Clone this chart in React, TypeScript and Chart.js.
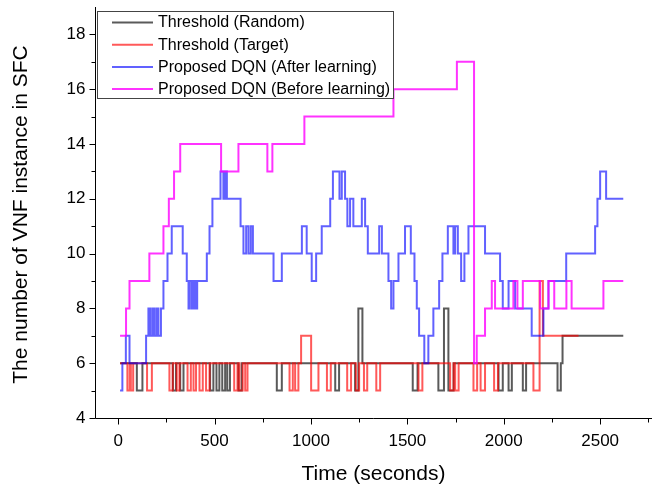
import React, { useEffect, useRef } from 'react';
import { Chart, registerables } from 'chart.js';

Chart.register(...registerables);

// ---- data (time in seconds -> number of VNF instances; value holds until next time) ----
const randomTimes = [10, 97, 126, 284, 300, 322, 339, 477, 494, 510, 525, 540, 555, 566, 580, 624, 641, 823, 849, 1126, 1146, 1229, 1246, 1267, 1528, 1553, 1661, 1690, 1713, 1740, 1973, 1995, 2025, 2042, 2099, 2116, 2279, 2296, 2305, 2620];
const randomValues = [6, 5, 6, 5, 6, 5, 6, 5, 6, 5, 6, 5, 6, 5, 6, 5, 6, 5, 6, 5, 6, 5, 8, 6, 5, 6, 5, 8, 5, 6, 5, 6, 5, 6, 5, 6, 5, 6, 7, 7];

const targetTimes = [10, 48, 60, 66, 78, 150, 175, 266, 283, 304, 318, 360, 377, 391, 404, 422, 439, 456, 474, 602, 619, 629, 646, 659, 671, 889, 906, 918, 935, 949, 1001, 1039, 1083, 1103, 1188, 1208, 1233, 1250, 1275, 1292, 1339, 1359, 1558, 1578, 1722, 1740, 1748, 1766, 1843, 1862, 1880, 1903, 1950, 1970, 2154, 2186, 2203, 2388];
const targetValues = [6, 5, 6, 5, 6, 5, 6, 5, 6, 5, 6, 5, 6, 5, 6, 5, 6, 5, 6, 5, 6, 5, 6, 5, 6, 5, 6, 5, 6, 7, 5, 6, 5, 6, 5, 6, 5, 6, 5, 6, 5, 6, 5, 6, 5, 6, 5, 6, 5, 6, 5, 6, 5, 6, 5, 9, 7, 7];

const afterTimes = [10, 22, 40, 59, 145, 157, 167, 178, 188, 199, 209, 222, 235, 256, 278, 335, 356, 365, 372, 383, 390, 400, 410, 460, 474, 489, 531, 546, 555, 564, 635, 650, 664, 676, 688, 699, 806, 849, 953, 978, 1004, 1027, 1056, 1100, 1114, 1148, 1160, 1177, 1189, 1203, 1220, 1264, 1281, 1295, 1354, 1368, 1402, 1416, 1428, 1454, 1488, 1518, 1537, 1549, 1561, 1588, 1609, 1635, 1665, 1682, 1710, 1739, 1748, 1762, 1779, 1796, 1817, 1903, 1981, 1995, 2025, 2059, 2145, 2206, 2232, 2324, 2474, 2486, 2500, 2531, 2620];
const afterValues = [5, 6, 7, 6, 7, 8, 7, 8, 7, 8, 7, 8, 9, 10, 11, 10, 9, 8, 9, 8, 9, 8, 9, 10, 11, 12, 13, 12, 13, 12, 11, 10, 11, 10, 11, 10, 9, 10, 11, 10, 9, 10, 11, 12, 13, 12, 13, 12, 11, 12, 11, 12, 11, 10, 11, 10, 9, 8, 9, 10, 11, 10, 9, 8, 7, 6, 7, 8, 9, 10, 11, 10, 11, 10, 9, 10, 11, 10, 9, 8, 9, 8, 7, 8, 9, 10, 11, 12, 13, 12, 12];

const beforeTimes = [10, 41, 59, 162, 235, 263, 290, 322, 534, 624, 774, 800, 966, 1428, 1757, 1846, 1860, 1903, 1938, 1955, 2050, 2071, 2099, 2189, 2232, 2262, 2325, 2352, 2517, 2620];
const beforeValues = [7, 8, 9, 10, 11, 12, 13, 14, 13, 14, 13, 14, 15, 16, 17, 6, 7, 8, 9, 8, 9, 8, 9, 8, 9, 8, 9, 8, 9, 9];

const seriesNames = ['Threshold (Random)', 'Threshold (Target)', 'Proposed DQN (After learning)', 'Proposed DQN (Before learning)'];
const seriesColors = ['rgba(20,20,20,0.7)', 'rgba(255,0,0,0.65)', 'rgba(0,0,255,0.62)', 'rgba(255,0,255,0.8)'];

const xMajorTicks = [0, 500, 1000, 1500, 2000, 2500];
const xMinorTicks = [250, 750, 1250, 1750, 2250, 2750];
const yMajorTicks = [4, 6, 8, 10, 12, 14, 16, 18];
const yMinorTicks = [5, 7, 9, 11, 13, 15, 17];

const xTitle = 'Time (seconds)';
const yTitle = 'The number of VNF instance in SFC';

const FONT = '"Liberation Sans", Arial, sans-serif';

function toPoints(ts: number[], vs: number[]) {
  return ts.map((t, i) => ({ x: t, y: vs[i] }));
}

const decorPlugin = {
  id: 'decor',
  afterDraw(chart: any) {
    const { ctx, chartArea, scales } = chart;
    const xs = scales.x;
    const ys = scales.y;
    const L = Math.round(chartArea.left) + 0.5;
    const B = Math.round(chartArea.bottom) + 0.5;
    ctx.save();
    ctx.strokeStyle = '#000';
    ctx.lineWidth = 1;
    ctx.beginPath();
    ctx.moveTo(L, chartArea.top);
    ctx.lineTo(L, B);
    ctx.lineTo(chartArea.right, B);
    ctx.stroke();

    // y ticks
    ctx.beginPath();
    yMajorTicks.forEach((v) => {
      const y = Math.round(ys.getPixelForValue(v)) + 0.5;
      ctx.moveTo(L - 6, y);
      ctx.lineTo(L, y);
    });
    yMinorTicks.forEach((v) => {
      const y = Math.round(ys.getPixelForValue(v)) + 0.5;
      ctx.moveTo(L - 4, y);
      ctx.lineTo(L, y);
    });
    // x ticks
    xMajorTicks.forEach((v) => {
      const x = Math.round(xs.getPixelForValue(v)) + 0.5;
      ctx.moveTo(x, B);
      ctx.lineTo(x, B + 6);
    });
    xMinorTicks.forEach((v) => {
      const x = Math.round(xs.getPixelForValue(v)) + 0.5;
      ctx.moveTo(x, B);
      ctx.lineTo(x, B + 4);
    });
    ctx.stroke();

    ctx.fillStyle = '#000';
    ctx.font = `17px ${FONT}`;
    ctx.textAlign = 'right';
    ctx.textBaseline = 'middle';
    yMajorTicks.forEach((v) => {
      ctx.fillText(String(v), L - 10, ys.getPixelForValue(v));
    });
    ctx.textAlign = 'center';
    ctx.textBaseline = 'middle';
    xMajorTicks.forEach((v) => {
      ctx.fillText(String(v), xs.getPixelForValue(v), B + 23);
    });

    // titles
    ctx.font = `21px ${FONT}`;
    ctx.fillText(xTitle, (chartArea.left + chartArea.right) / 2, B + 56);
    ctx.save();
    ctx.translate(21, (chartArea.top + chartArea.bottom) / 2 + 2);
    ctx.rotate(-Math.PI / 2);
    ctx.fillText(yTitle, 0, 0);
    ctx.restore();

    // legend
    const bx = 97.5, by = 11.5, bw = 296, bh = 87;
    ctx.fillStyle = '#fff';
    ctx.fillRect(bx, by, bw, bh);
    ctx.strokeStyle = '#444';
    ctx.lineWidth = 1;
    ctx.strokeRect(bx, by, bw, bh);
    ctx.font = `16px ${FONT}`;
    ctx.textAlign = 'left';
    ctx.textBaseline = 'middle';
    seriesNames.forEach((name, i) => {
      const y = 22.5 + i * 22.2;
      ctx.strokeStyle = seriesColors[i];
      ctx.lineWidth = 2;
      ctx.beginPath();
      ctx.moveTo(112, y);
      ctx.lineTo(153, y);
      ctx.stroke();
      ctx.fillStyle = '#000';
      ctx.fillText(name, 158, y + 0.5);
    });
    ctx.restore();
  },
};

export default function App() {
  const ref = useRef<HTMLCanvasElement | null>(null);
  useEffect(() => {
    document.body.style.margin = '0';
    const canvas = ref.current;
    if (!canvas) return;
    const data = [
      toPoints(randomTimes, randomValues),
      toPoints(targetTimes, targetValues),
      toPoints(afterTimes, afterValues),
      toPoints(beforeTimes, beforeValues),
    ];
    const chart = new Chart(canvas, {
      type: 'line',
      data: {
        datasets: data.map((d, i) => ({
          label: seriesNames[i],
          data: d,
          borderColor: seriesColors[i],
          backgroundColor: seriesColors[i],
          borderWidth: 2,
          pointRadius: 0,
          stepped: 'before' as const,
          fill: false,
          order: 4 - i,
        })),
      },
      options: {
        animation: false,
        responsive: false,
        devicePixelRatio: 1,
        parsing: false as any,
        layout: { padding: { left: 95, right: 0, top: 7, bottom: 67 } },
        scales: {
          x: { type: 'linear', min: -120, max: 2769, display: false },
          y: { type: 'linear', min: 4, max: 19, display: false },
        },
        plugins: { legend: { display: false }, tooltip: { enabled: false } },
      },
      plugins: [decorPlugin],
    });
    return () => chart.destroy();
  }, []);
  return <canvas ref={ref} width={652} height={485} style={{ display: 'block' }} />;
}
